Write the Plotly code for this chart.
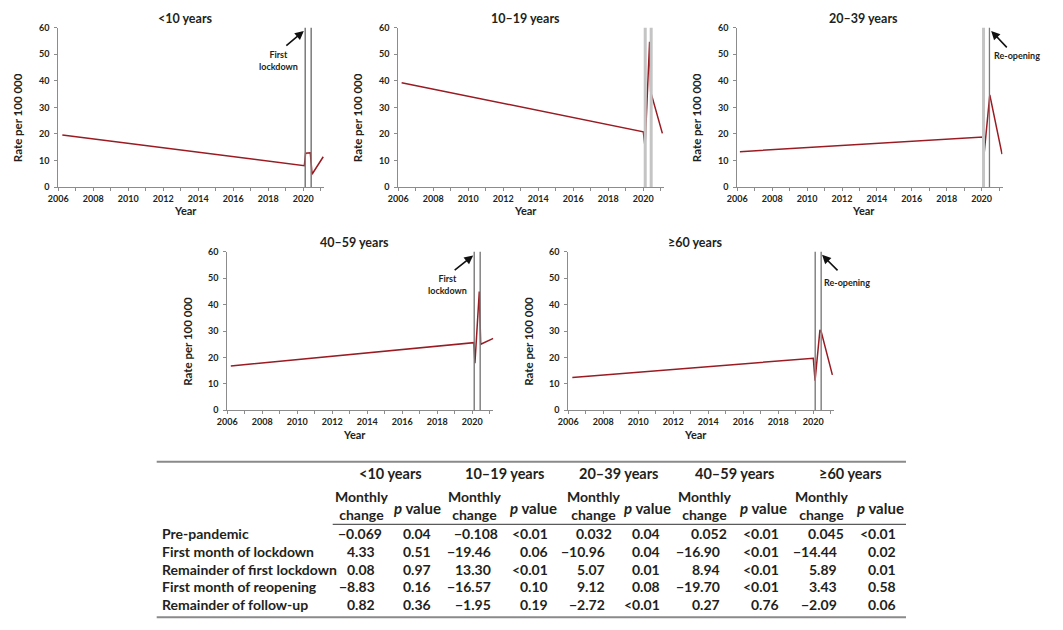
import plotly.graph_objects as go

# ---------------- data ----------------
panel_titles = ["<10 years", "10\u201319 years", "20\u201339 years", "40\u201359 years", "\u226560 years"]

years_lt10 = [2006.23, 2020.06, 2020.13, 2020.33, 2020.40, 2020.50, 2021.14]
rate_lt10 = [19.6, 8.0, 12.7, 12.7, 12.9, 4.8, 11.4]

years_10_19 = [2006.19, 2020.00, 2020.10, 2020.33, 2020.36, 2020.42, 2021.09]
rate_10_19 = [39.3, 20.8, 15.0, 54.7, 54.7, 35.9, 20.2]

years_20_39 = [2006.15, 2020.08, 2020.15, 2020.47, 2021.17]
rate_20_39 = [13.3, 18.8, 12.9, 34.7, 12.4]

years_40_59 = [2006.20, 2020.09, 2020.15, 2020.40, 2020.48, 2021.20]
rate_40_59 = [16.8, 25.6, 17.8, 44.9, 25.0, 27.2]

years_60p = [2006.23, 2020.00, 2020.10, 2020.33, 2020.38, 2020.45, 2021.09]
rate_60p = [12.4, 19.7, 11.2, 29.2, 30.4, 29.8, 13.4]

lockdown_year = 2020.11
reopen_year = 2020.45

x_tick_years = [2006, 2008, 2010, 2012, 2014, 2016, 2018, 2020]
y_ticks = [0, 10, 20, 30, 40, 50, 60]

table_rows = ["Pre-pandemic", "First month of lockdown", "Remainder of first lockdown",
              "First month of reopening", "Remainder of follow-up"]
change_lt10 = ["\u22120.069", "4.33", "0.08", "\u22128.83", "0.82"]
p_lt10 = ["0.04", "0.51", "0.97", "0.16", "0.36"]
change_10_19 = ["\u22120.108", "\u221219.46", "13.30", "\u221216.57", "\u22121.95"]
p_10_19 = ["<0.01", "0.06", "<0.01", "0.10", "0.19"]
change_20_39 = ["0.032", "\u221210.96", "5.07", "9.12", "\u22122.72"]
p_20_39 = ["0.04", "0.04", "0.01", "0.08", "<0.01"]
change_40_59 = ["0.052", "\u221216.90", "8.94", "\u221219.70", "0.27"]
p_40_59 = ["<0.01", "<0.01", "<0.01", "<0.01", "0.76"]
change_60p = ["0.045", "\u221214.44", "5.89", "3.43", "\u22122.09"]
p_60p = ["<0.01", "0.02", "0.01", "0.58", "0.06"]

# ---------------- layout helpers ----------------
W, H = 1063, 630
FONT = "Lato, Roboto, sans-serif"
TXT = "#231f20"
AXC = "#8c8c8c"
LINE = "#9a1b22"
XMAX = 2021.2


def px(x):
    return x / W


def py(y):
    return 1 - y / H


fig = go.Figure()

series = [(years_lt10, rate_lt10), (years_10_19, rate_10_19), (years_20_39, rate_20_39),
          (years_40_59, rate_40_59), (years_60p, rate_60p)]

# (plot left px, plot top px, plot bottom px, px per year)
panels = [
    (58.3, 27.7, 187.0, 17.5),
    (398.3, 27.7, 187.0, 17.5),
    (737.3, 27.7, 187.0, 17.45),
    (227.3, 251.7, 410.3, 17.5),
    (568.3, 251.7, 410.3, 17.5),
]

vstyles = [
    (("#7a7a7a", 1.5), ("#7a7a7a", 1.5)),
    (("#c4c4c4", 3), ("#c4c4c4", 3)),
    (("#c4c4c4", 3), ("#7a7a7a", 1.3)),
    (("#7a7a7a", 1.4), ("#7a7a7a", 1.4)),
    (("#858585", 1.5), ("#858585", 1.5)),
]

layout = dict(
    width=W, height=H, margin=dict(l=0, r=0, t=0, b=0, autoexpand=False),
    paper_bgcolor="white", plot_bgcolor="white", showlegend=False,
    font=dict(family=FONT, color=TXT),
)
shapes = []
annotations = []
TICKF = dict(family=FONT, size=9, color=TXT, weight="bold")

for i, ((xs, ys), (left, top, bottom, ppy)) in enumerate(zip(series, panels)):
    n = "" if i == 0 else str(i + 1)
    right = left + (XMAX - 2006) * ppy
    fig.add_trace(go.Scatter(x=xs, y=ys, mode="lines", xaxis="x" + n, yaxis="y" + n,
                             line=dict(color=LINE, width=1.5), hoverinfo="skip"))
    layout["xaxis" + n] = dict(
        domain=[px(left), px(right)], range=[2006, XMAX], anchor="y" + n, automargin=False,
        tickvals=x_tick_years, ticktext=[str(v) for v in x_tick_years],
        ticks="outside", ticklen=3, tickcolor=AXC, tickwidth=1,
        minor=dict(dtick=1, tick0=2006, ticks="outside", ticklen=3, tickcolor=AXC, showgrid=False),
        showline=True, linecolor=AXC, linewidth=1, showgrid=False, zeroline=False,
        tickfont=TICKF, fixedrange=True,
    )
    layout["yaxis" + n] = dict(
        domain=[py(bottom), py(top)], range=[0, 60], anchor="x" + n, automargin=False,
        tickvals=y_ticks, ticks="outside", ticklen=3, tickcolor=AXC, ticklabelstandoff=3,
        showline=True, linecolor=AXC, linewidth=1, showgrid=False, zeroline=False,
        tickfont=TICKF, fixedrange=True,
    )
    for yr, (col, wd) in zip([lockdown_year, reopen_year], vstyles[i]):
        shapes.append(dict(type="line", xref="x" + n, yref="y" + n + " domain",
                           x0=yr, x1=yr, y0=0, y1=1, line=dict(color=col, width=wd)))
    cx = (left + right) / 2 - 6
    annotations.append(dict(text=panel_titles[i], x=px(cx), y=py(top - 9), xref="paper", yref="paper",
                            showarrow=False, xanchor="center", yanchor="middle",
                            font=dict(family=FONT, size=12.5, color=TXT, weight="bold")))
    annotations.append(dict(text="Year", x=px(cx), y=py(bottom + 24), xref="paper", yref="paper",
                            showarrow=False, xanchor="center", yanchor="middle",
                            font=dict(family=FONT, size=11, color=TXT, weight="bold")))
    annotations.append(dict(text="Rate per 100 000", x=px(left - 40.5), y=py((top + bottom) / 2 + 10),
                            xref="paper", yref="paper", textangle=-90,
                            showarrow=False, xanchor="center", yanchor="middle",
                            font=dict(family=FONT, size=11.5, color=TXT, weight="bold")))


def arrow(n, yr, val, ax, ay):
    annotations.append(dict(text="", x=yr, y=val, xref="x" + n, yref="y" + n,
                            showarrow=True, ax=ax, ay=ay, arrowhead=2, arrowsize=1.1,
                            arrowwidth=1.6, arrowcolor="#111111", standoff=0, startstandoff=0))


def label(text, xpx, ypx):
    annotations.append(dict(text=text, x=px(xpx), y=py(ypx), xref="paper", yref="paper",
                            showarrow=False, xanchor="center", yanchor="middle", align="center",
                            font=dict(family=FONT, size=9, color=TXT, weight="bold")))


arrow("", lockdown_year - 0.08, 58.8, -19, 16)
label("First<br>lockdown", 278.3, 61)
arrow("3", reopen_year + 0.1, 58.8, 17, 18)
label("Re-opening", 1017, 55)
arrow("4", lockdown_year - 0.06, 58.6, -20, 16)
label("First<br>lockdown", 447.8, 285)
arrow("5", reopen_year + 0.05, 58.8, 17, 17)
label("Re-opening", 846.7, 282.3)

# ---------------- table ----------------
row_y = [533.3, 551.7, 569.3, 586.7, 604.3]
age_centers = [390.7, 505, 619, 735, 850]
mc_centers = [361, 474.7, 593.6, 704.7, 821.3]
pv_centers = [417.7, 533.8, 647.5, 763.3, 880]
mc_right2 = [376.7, 492.7, 607.3, 721.7, 839.3]
pv_right = [432.7, 550, 661.7, 780.5, 898.3]
DIGIT = 7.0
TF = dict(family=FONT, size=14, color=TXT, weight="bold")

shapes.append(dict(type="line", xref="paper", yref="paper", x0=px(156.7), x1=px(906),
                   y0=py(461.7), y1=py(461.7), line=dict(color="#8a8a8a", width=2)))
shapes.append(dict(type="line", xref="paper", yref="paper", x0=px(332.7), x1=px(906),
                   y0=py(524.3), y1=py(524.3), line=dict(color="#5a5a5a", width=1.2)))
shapes.append(dict(type="line", xref="paper", yref="paper", x0=px(156.7), x1=px(906),
                   y0=py(617.3), y1=py(617.3), line=dict(color="#8a8a8a", width=2)))


def cell(text, xpx, ypx, anchor="center", size=14):
    f = dict(TF)
    f["size"] = size
    annotations.append(dict(text=text, x=px(xpx), y=py(ypx), xref="paper", yref="paper",
                            showarrow=False, xanchor=anchor, yanchor="middle", align="center",
                            font=f))


for j, t in enumerate(panel_titles):
    cell(t, age_centers[j], 473.5, size=14.5)
    cell("Monthly<br>change", mc_centers[j], 505)
    cell("<i>p</i> value", pv_centers[j], 508, size=15)

for r, lab in enumerate(table_rows):
    cell(lab, 160, row_y[r], anchor="left")

changes = [change_lt10, change_10_19, change_20_39, change_40_59, change_60p]
pvals = [p_lt10, p_10_19, p_20_39, p_40_59, p_60p]
for j in range(5):
    for r in range(5):
        s = changes[j][r]
        ndec = len(s.split(".")[1])
        cell(s, mc_right2[j] + (ndec - 2) * DIGIT, row_y[r], anchor="right")
        cell(pvals[j][r], pv_right[j], row_y[r], anchor="right")

layout["shapes"] = shapes
layout["annotations"] = annotations
fig.update_layout(**layout)
fig.write_html("out.html", config={"displayModeBar": False},
               post_script="document.body.style.margin='0px';")
